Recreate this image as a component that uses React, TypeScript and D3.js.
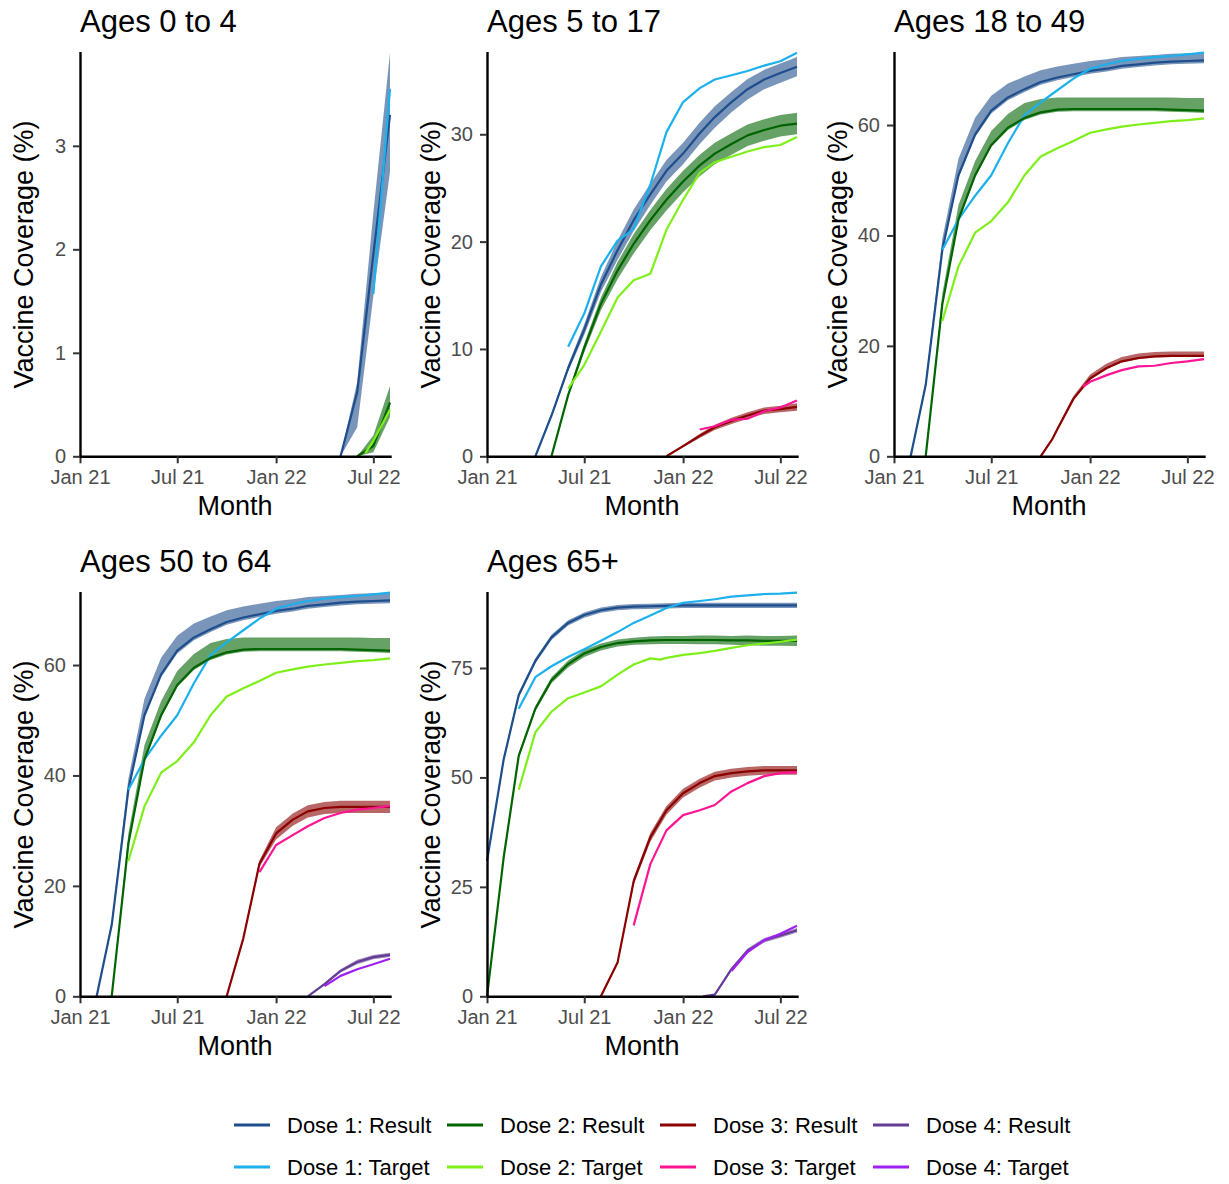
import React from "react";
import * as d3 from "d3";

type ResultRow = [number, number, number, number];
type TargetRow = [number, number];

// month index counted from 1 Jan 2021 (19 = 1 Aug 2022)
// result rows: [month, estimate, lower, upper]   target rows: [month, value]

const age0to4Dose1Result: ResultRow[] = [[16, 0, 0, 0], [17, 0.62, 0.28, 0.72], [18, 1.95, 1.55, 2.35], [19, 3.3, 2.75, 3.9]];
const age0to4Dose1Target: TargetRow[] = [[18, 1.57], [19, 3.55]];
const age0to4Dose2Result: ResultRow[] = [[17, 0, 0, 0], [18, 0.1, 0.04, 0.2], [19, 0.52, 0.38, 0.68]];
const age0to4Dose2Target: TargetRow[] = [[17.5, 0.03], [18, 0.15], [19, 0.45]];

const age5to17Dose1Result: ResultRow[] = [
    [3, 0, 0, 0], [4, 3.8, 3.65, 3.95], [5, 8.2, 7.9, 8.5], [6, 11.8, 11.3, 12.3], [7, 16.0, 15.3, 16.7],
    [8, 19.2, 18.3, 20.1], [9, 22.0, 21.0, 23.0], [10, 24.4, 23.4, 25.4], [11, 26.6, 25.6, 27.6],
    [12, 28.2, 27.2, 29.2], [13, 30.1, 29.1, 31.1], [14, 31.6, 30.6, 32.6], [15, 33.0, 32.05, 33.95],
    [16, 34.2, 33.25, 35.15], [17, 35.1, 34.2, 36.0], [18, 35.7, 34.8, 36.6], [19, 36.3, 35.4, 37.2]
];
const age5to17Dose1Target: TargetRow[] = [
    [5, 10.2], [6, 13.3], [7, 17.7], [8, 20.1], [8.5, 20.6], [9, 21.2], [10, 25.3], [11, 30.2],
    [12, 33.0], [13, 34.3], [14, 35.1], [15, 35.5], [16, 35.9], [17, 36.4], [18, 36.8], [19, 37.6]
];
const age5to17Dose2Result: ResultRow[] = [
    [4, 0, 0, 0], [5, 5.7, 5.5, 5.9], [6, 10.1, 9.7, 10.5], [7, 14.2, 13.6, 14.8], [8, 17.3, 16.5, 18.1],
    [9, 19.8, 18.9, 20.7], [10, 22.0, 21.05, 22.95], [11, 23.9, 22.9, 24.9], [12, 25.6, 24.6, 26.6],
    [13, 27.1, 26.1, 28.1], [14, 28.2, 27.2, 29.2], [15, 29.1, 28.1, 30.1], [16, 29.9, 28.9, 30.9],
    [17, 30.4, 29.4, 31.4], [18, 30.8, 29.8, 31.8], [19, 31.0, 30.0, 32.0]
];
const age5to17Dose2Target: TargetRow[] = [
    [5, 6.3], [6, 8.5], [7, 11.6], [8, 14.8], [9, 16.4], [10, 17.0], [11, 21.1], [12, 23.9],
    [13, 26.4], [14, 27.4], [15, 27.9], [16, 28.4], [17, 28.8], [18, 29.0], [19, 29.75]
];
const age5to17Dose3Result: ResultRow[] = [
    [11, 0, 0, 0], [12, 0.95, 0.85, 1.05], [13, 1.9, 1.7, 2.1], [14, 2.7, 2.45, 2.95], [15, 3.3, 3.0, 3.6],
    [16, 3.8, 3.5, 4.1], [17, 4.25, 3.95, 4.55], [18, 4.4, 4.1, 4.7], [19, 4.6, 4.25, 4.95]
];
const age5to17Dose3Target: TargetRow[] = [[13, 2.5], [14, 2.8], [15, 3.4], [16, 3.5], [17, 4.2], [18, 4.55], [19, 5.2]];

const age18to49Dose1Result: ResultRow[] = [
    [1, 0, 0, 0], [2, 12.9, 12.6, 13.7], [3, 37.4, 36.9, 39.4], [4, 50.9, 50.4, 53.9], [5, 58.3, 57.8, 61.3],
    [6, 62.6, 62.1, 65.3], [7, 65.0, 64.5, 67.5], [8, 66.5, 66.0, 68.8], [9, 67.8, 67.3, 69.9],
    [10, 68.6, 68.1, 70.6], [11, 69.2, 68.7, 71.1], [12, 69.8, 69.3, 71.6], [13, 70.2, 69.7, 71.9],
    [14, 70.7, 70.2, 72.3], [15, 71.0, 70.5, 72.5], [16, 71.3, 70.8, 72.7], [17, 71.5, 71.0, 72.9],
    [18, 71.6, 71.1, 73.0], [19, 71.7, 71.2, 73.0]
];
const age18to49Dose1Target: TargetRow[] = [
    [3, 37.4], [4, 42.9], [5, 47.2], [6, 50.9], [7, 56.7], [8, 61.8], [9, 64.1], [10, 66.3], [11, 68.4],
    [12, 70.2], [13, 71.0], [14, 71.6], [15, 72.0], [16, 72.3], [17, 72.5], [18, 72.8], [19, 73.1]
];
const age18to49Dose2Result: ResultRow[] = [
    [2, 0, 0, 0], [3, 27.6, 27.2, 29.5], [4, 42.9, 42.5, 45.5], [5, 50.9, 50.5, 53.5], [6, 56.4, 56.0, 58.9],
    [7, 59.5, 59.1, 62.0], [8, 61.3, 60.9, 64.0], [9, 62.3, 61.9, 64.7], [10, 62.8, 62.4, 65.0],
    [11, 62.9, 62.5, 65.0], [12, 62.9, 62.5, 65.0], [13, 62.9, 62.5, 65.0], [14, 62.9, 62.5, 65.0],
    [15, 62.9, 62.5, 65.0], [16, 62.9, 62.5, 65.0], [17, 62.8, 62.4, 65.0], [18, 62.7, 62.3, 64.9],
    [19, 62.6, 62.2, 64.9]
];
const age18to49Dose2Target: TargetRow[] = [
    [3, 24.5], [4, 34.4], [5, 40.5], [6, 42.6], [7, 46.0], [8, 50.9], [9, 54.3], [10, 55.8], [11, 57.1],
    [12, 58.6], [13, 59.2], [14, 59.7], [15, 60.1], [16, 60.4], [17, 60.7], [18, 60.9], [19, 61.2]
];
const age18to49Dose3Result: ResultRow[] = [
    [9, 0, 0, 0], [9.7, 3.0, 2.9, 3.2], [10, 4.9, 4.7, 5.2], [11, 10.4, 10.2, 10.9], [12, 14.1, 13.9, 14.8],
    [13, 16.0, 15.8, 16.8], [14, 17.2, 17.0, 18.0], [15, 17.8, 17.6, 18.6], [16, 18.1, 17.9, 18.9],
    [17, 18.2, 18.0, 19.0], [18, 18.2, 18.0, 19.0], [19, 18.2, 18.0, 19.0]
];
const age18to49Dose3Target: TargetRow[] = [
    [11.6, 12.6], [12, 13.5], [13, 14.7], [14, 15.6], [15, 16.3], [16, 16.4], [17, 16.9], [18, 17.2], [19, 17.6]
];

// doses 1 and 2 read the same as the 18 to 49 panel
const age50to64Dose1Result: ResultRow[] = age18to49Dose1Result;
const age50to64Dose1Target: TargetRow[] = age18to49Dose1Target;
const age50to64Dose2Result: ResultRow[] = age18to49Dose2Result;
const age50to64Dose2Target: TargetRow[] = age18to49Dose2Target;
const age50to64Dose3Result: ResultRow[] = [
    [9, 0, 0, 0], [10, 10.5, 10.2, 10.8], [11, 24.0, 23.4, 24.6], [12, 29.5, 28.4, 30.6], [13, 32.0, 30.9, 33.1],
    [14, 33.5, 32.4, 34.6], [15, 34.1, 33.0, 35.2], [16, 34.3, 33.2, 35.4], [17, 34.3, 33.2, 35.4],
    [18, 34.3, 33.2, 35.4], [19, 34.3, 33.2, 35.4]
];
const age50to64Dose3Target: TargetRow[] = [
    [11, 22.5], [12, 27.4], [13, 29.2], [14, 30.8], [15, 32.3], [16, 33.2], [17, 33.8], [18, 34.1], [19, 34.5]
];
const age50to64Dose4Result: ResultRow[] = [
    [14, 0, 0, 0], [15, 2.2, 2.0, 2.4], [16, 4.6, 4.3, 4.9], [17, 6.2, 5.8, 6.6], [18, 7.1, 6.7, 7.5], [19, 7.5, 7.1, 7.9]
];
const age50to64Dose4Target: TargetRow[] = [[15, 1.85], [16, 3.7], [17, 4.9], [18, 5.8], [19, 6.8]];

const age65plusDose1Result: ResultRow[] = [
    [0, 30.9, 30.6, 31.2], [1, 54.1, 53.5, 54.7], [2, 68.8, 68.2, 69.4], [3, 76.6, 76.0, 77.2],
    [4, 82.0, 81.4, 82.6], [5, 85.3, 84.7, 85.9], [6, 87.1, 86.5, 87.7], [7, 88.2, 87.6, 88.8],
    [8, 88.8, 88.2, 89.4], [9, 89.0, 88.4, 89.6], [10, 89.1, 88.5, 89.7], [11, 89.2, 88.6, 89.8],
    [12, 89.3, 88.7, 89.9], [13, 89.3, 88.7, 89.9], [14, 89.3, 88.7, 89.9], [15, 89.3, 88.7, 89.9],
    [16, 89.3, 88.7, 89.9], [17, 89.3, 88.7, 89.9], [18, 89.3, 88.7, 89.9], [19, 89.3, 88.7, 89.9]
];
const age65plusDose1Target: TargetRow[] = [
    [2, 65.7], [3, 72.9], [4, 75.4], [5, 77.5], [6, 79.3], [7, 81.2], [8, 83.2], [9, 85.3], [10, 87.0],
    [11, 88.7], [12, 89.9], [13, 90.3], [14, 90.7], [15, 91.3], [16, 91.6], [17, 91.9], [18, 92.0], [19, 92.2]
];
const age65plusDose2Result: ResultRow[] = [
    [0, 0, 0, 0], [1, 31.7, 31.4, 32.0], [2, 54.9, 54.4, 55.4], [3, 65.7, 65.1, 66.3], [4, 72.2, 71.5, 72.9],
    [5, 75.9, 75.1, 76.7], [6, 78.3, 77.5, 79.1], [7, 79.8, 79.0, 80.6], [8, 80.7, 79.9, 81.5],
    [9, 81.1, 80.3, 81.9], [10, 81.3, 80.4, 82.2], [11, 81.4, 80.5, 82.3], [12, 81.4, 80.5, 82.3],
    [13, 81.4, 80.4, 82.4], [14, 81.4, 80.4, 82.4], [15, 81.3, 80.3, 82.3], [16, 81.3, 80.2, 82.4],
    [17, 81.2, 80.1, 82.3], [18, 81.2, 80.1, 82.3], [19, 81.2, 80.0, 82.4]
];
const age65plusDose2Target: TargetRow[] = [
    [2, 47.2], [3, 60.3], [4, 65.0], [5, 68.1], [6, 69.4], [7, 70.8], [8, 73.5], [9, 75.8], [10, 77.2],
    [10.6, 76.9], [11, 77.3], [12, 78.0], [13, 78.4], [14, 78.9], [15, 79.6], [16, 80.2], [17, 80.6],
    [18, 81.0], [19, 81.5]
];
const age65plusDose3Result: ResultRow[] = [
    [7, 0, 0, 0], [8, 7.7, 7.4, 8.0], [9, 26.3, 25.5, 27.1], [10, 36.3, 35.3, 37.3], [11, 42.5, 41.5, 43.5],
    [12, 46.4, 45.4, 47.4], [13, 48.7, 47.7, 49.7], [14, 50.3, 49.3, 51.3], [15, 51.0, 50.0, 52.0],
    [16, 51.4, 50.4, 52.4], [17, 51.6, 50.6, 52.6], [18, 51.6, 50.6, 52.6], [19, 51.6, 50.6, 52.6]
];
const age65plusDose3Target: TargetRow[] = [
    [9, 16.2], [10, 30.2], [11, 37.9], [12, 41.4], [13, 42.5], [14, 43.7], [15, 46.8], [16, 48.7],
    [17, 50.3], [18, 51.0], [19, 51.2]
];
const age65plusDose4Result: ResultRow[] = [
    [13.2, 0, 0, 0], [14, 0.4, 0.3, 0.5], [15, 6.2, 5.8, 6.6], [16, 10.4, 9.9, 10.9], [17, 12.8, 12.3, 13.3],
    [18, 13.9, 13.4, 14.4], [19, 15.1, 14.6, 15.6]
];
const age65plusDose4Target: TargetRow[] = [[15, 5.8], [16, 10.1], [17, 12.8], [18, 14.3], [19, 16.1]];

const panelTitles = ["Ages 0 to 4", "Ages 5 to 17", "Ages 18 to 49", "Ages 50 to 64", "Ages 65+"];
const panelYTicks = [[0, 1, 2, 3], [0, 10, 20, 30], [0, 20, 40, 60], [0, 20, 40, 60], [0, 25, 50, 75]];
const xTickMonths = [0, 6, 12, 18];
const doseLabels = ["Dose 1", "Dose 2", "Dose 3", "Dose 4"];
const resultColors = ["#1F4E8C", "#006400", "#8B0000", "#643C96"];
const targetColors = ["#1CB0EC", "#7FEF1A", "#FF1493", "#A020F0"];

const panelResults: ResultRow[][][] = [
    [age0to4Dose1Result, age0to4Dose2Result, [], []],
    [age5to17Dose1Result, age5to17Dose2Result, age5to17Dose3Result, []],
    [age18to49Dose1Result, age18to49Dose2Result, age18to49Dose3Result, []],
    [age50to64Dose1Result, age50to64Dose2Result, age50to64Dose3Result, age50to64Dose4Result],
    [age65plusDose1Result, age65plusDose2Result, age65plusDose3Result, age65plusDose4Result]
];
const panelTargets: TargetRow[][][] = [
    [age0to4Dose1Target, age0to4Dose2Target, [], []],
    [age5to17Dose1Target, age5to17Dose2Target, age5to17Dose3Target, []],
    [age18to49Dose1Target, age18to49Dose2Target, age18to49Dose3Target, []],
    [age50to64Dose1Target, age50to64Dose2Target, age50to64Dose3Target, age50to64Dose4Target],
    [age65plusDose1Target, age65plusDose2Target, age65plusDose3Target, age65plusDose4Target]
];

const font = "'Liberation Sans', Arial, Helvetica, sans-serif";

function monthToDate(m: number): Date {
    let whole = Math.floor(m);
    let start = d3.timeMonth.offset(new Date(2021, 0, 1), whole);
    return d3.timeDay.offset(start, Math.round((m - whole) * 30));
}

function buildSvg(): string {
    let width = 1229;
    let height = 1184;
    let margin = { left: 80, top: 52.7 };
    let panelW = 310;
    let panelH = 403.6;
    let colStep = 407;
    let rowStep = 540;

    const svg = d3.create("svg")
        .attr("xmlns", "http://www.w3.org/2000/svg")
        .attr("width", width)
        .attr("height", height)
        .attr("viewBox", `0 0 ${width} ${height}`)
        .attr("font-family", font);

    svg.append("rect").attr("width", width).attr("height", height).attr("fill", "white");

    panelTitles.forEach((title, i) => {
        let col = i % 3;
        let row = Math.floor(i / 3);
        let left = margin.left + col * colStep;
        let top = margin.top + row * rowStep;
        let results = panelResults[i];
        let targets = panelTargets[i];

        let maxVal = d3.max([
            ...results.flat().map(d => d[3]),
            ...targets.flat().map(d => d[1])
        ]) as number;

        let x = d3.scaleTime()
            .domain([monthToDate(0), monthToDate(19)])
            .range([left, left + panelW]);

        let y = d3.scaleLinear()
            .domain([0, maxVal])
            .range([top + panelH, top]);

        let ribbon = d3.area<ResultRow>()
            .x(d => x(monthToDate(d[0])))
            .y0(d => y(d[2]))
            .y1(d => y(d[3]));

        let resultLine = d3.line<ResultRow>()
            .x(d => x(monthToDate(d[0])))
            .y(d => y(d[1]));

        let targetLine = d3.line<TargetRow>()
            .x(d => x(monthToDate(d[0])))
            .y(d => y(d[1]));

        let g = svg.append("g");

        results.forEach((data, k) => {
            if (data.length === 0) return;
            g.append("path")
                .attr("d", ribbon(data))
                .attr("fill", resultColors[k])
                .attr("fill-opacity", 0.6);
        });

        results.forEach((data, k) => {
            if (data.length > 0) {
                g.append("path")
                    .attr("d", resultLine(data))
                    .attr("fill", "none")
                    .attr("stroke", resultColors[k])
                    .attr("stroke-width", 2.2)
                    .attr("stroke-linejoin", "round");
            }
            if (targets[k].length > 0) {
                g.append("path")
                    .attr("d", targetLine(targets[k]))
                    .attr("fill", "none")
                    .attr("stroke", targetColors[k])
                    .attr("stroke-width", 2.2)
                    .attr("stroke-linejoin", "round");
            }
        });

        let xAxis = d3.axisBottom(x)
            .tickValues(xTickMonths.map(monthToDate))
            .tickFormat(d3.timeFormat("%b %y") as any)
            .tickSize(7)
            .tickPadding(7)
            .tickSizeOuter(0);

        let yAxis = d3.axisLeft(y)
            .tickValues(panelYTicks[i])
            .tickFormat(d3.format("d"))
            .tickSize(7)
            .tickPadding(7)
            .tickSizeOuter(0);

        let gx = svg.append("g")
            .attr("transform", `translate(0,${top + panelH})`)
            .call(xAxis);
        let gy = svg.append("g")
            .attr("transform", `translate(${left},0)`)
            .call(yAxis);

        [gx, gy].forEach(ax => {
            ax.select(".domain")
                .attr("stroke", "black")
                .attr("stroke-width", 2.4)
                .attr("stroke-linecap", "square");
            ax.selectAll(".tick line")
                .attr("stroke", "#333333")
                .attr("stroke-width", 2);
            ax.selectAll(".tick text")
                .attr("fill", "#4D4D4D")
                .attr("font-size", 20)
                .attr("font-family", font);
        });

        svg.append("text")
            .attr("x", left)
            .attr("y", top - 21)
            .attr("font-size", 31)
            .attr("fill", "black")
            .text(title);

        svg.append("text")
            .attr("transform", `translate(${left - 47},${top + panelH / 2}) rotate(-90)`)
            .attr("text-anchor", "middle")
            .attr("font-size", 27)
            .attr("fill", "black")
            .text("Vaccine Coverage (%)");

        svg.append("text")
            .attr("x", left + panelW / 2)
            .attr("y", top + panelH + 59)
            .attr("text-anchor", "middle")
            .attr("font-size", 27)
            .attr("fill", "black")
            .text("Month");
    });

    // legend: results on the first row, targets on the second
    let legendRows = [1125, 1167];
    doseLabels.forEach((dose, k) => {
        let kx = 234 + k * 213;
        [["Result", resultColors[k]], ["Target", targetColors[k]]].forEach(([kind, color], r) => {
            svg.append("line")
                .attr("x1", kx).attr("x2", kx + 36)
                .attr("y1", legendRows[r]).attr("y2", legendRows[r])
                .attr("stroke", color)
                .attr("stroke-width", 3);
            svg.append("text")
                .attr("x", kx + 53)
                .attr("y", legendRows[r])
                .attr("dy", "0.35em")
                .attr("font-size", 22)
                .attr("fill", "black")
                .text(`${dose}: ${kind}`);
        });
    });

    let s = new XMLSerializer();
    return s.serializeToString(svg.node() as Node);
}

export default function App() {
    let str = buildSvg();
    return <div style={{ position: "absolute", left: 0, top: 0 }} dangerouslySetInnerHTML={{ __html: str }}></div>;
}
